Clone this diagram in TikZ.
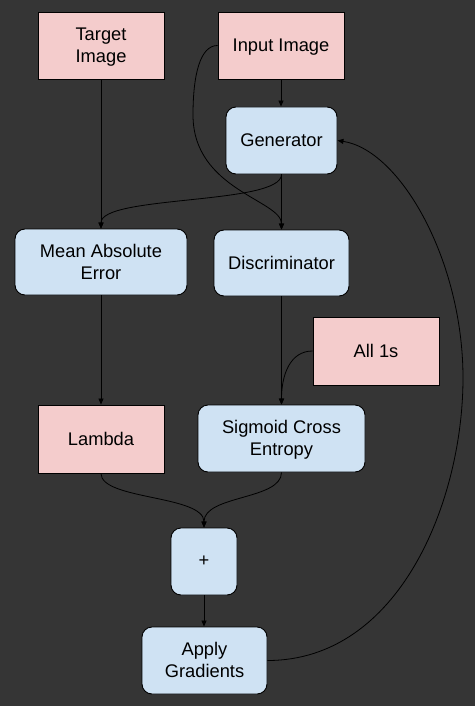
\documentclass[tikz,border=0pt]{standalone}
\usepackage{fontspec}
\setmainfont{Liberation Sans}
\usetikzlibrary{arrows.meta}
\definecolor{bg}{HTML}{353535}
\definecolor{pinkfill}{HTML}{F4CCCC}
\definecolor{bluefill}{HTML}{CFE2F3}
\begin{document}
\begin{tikzpicture}[x=1pt,y=-1pt,
  box/.style={draw=black, line width=0.9pt, align=center, inner sep=0pt,
    text depth=1pt, font=\fontsize{18.3}{22.2}\selectfont},
  pinkbox/.style={box, fill=pinkfill},
  bluebox/.style={box, fill=bluefill, rounded corners=10pt},
  conn/.style={draw=black, line width=0.8pt},
  arr/.style={conn, -{Triangle[length=6pt,width=5pt]}}]
\fill[bg] (0,0) rectangle (475,706);
\useasboundingbox (0,0) rectangle (475,706);

\node[pinkbox, minimum width=126pt, minimum height=67pt] (target) at (101,45.5) {Target\\Image};
\node[pinkbox, minimum width=126pt, minimum height=67pt] (input) at (281,45.5) {Input Image};
\node[bluebox, minimum width=111pt, minimum height=67pt] (gen) at (281.5,140.5) {Generator};
\node[bluebox, minimum width=172pt, minimum height=66pt] (mae) at (101,262) {Mean Absolute\\Error};
\node[bluebox, minimum width=135pt, minimum height=66pt] (disc) at (281.5,263) {Discriminator};
\node[pinkbox, minimum width=126pt, minimum height=68pt] (ones) at (376,351) {All 1s};
\node[pinkbox, minimum width=126pt, minimum height=68pt] (lambda) at (101,439) {Lambda};
\node[bluebox, minimum width=167pt, minimum height=67pt] (sce) at (281.5,438.5) {Sigmoid Cross\\Entropy};
\node[bluebox, minimum width=66pt, minimum height=67pt] (plus) at (204,561.5) {+};
\node[bluebox, minimum width=125pt, minimum height=67pt] (apply) at (204.5,660.5) {Apply\\Gradients};

\coordinate (k1) at (193,115);
\coordinate (k2) at (463,378);

\draw[arr] (target.south) -- (mae.north);
\draw[arr] (input.south) -- (input.south |- gen.north);
\draw[arr] (input.west) .. controls (200,45.5) and (193,75) .. (k1)
  .. controls (193,190) and (281.5,200) .. (disc.north);
\draw[arr] (gen.south) -- (disc.north);
\draw[arr] (gen.south) .. controls (281.5,205) and (101,195) .. (mae.north);
\draw[arr] (mae.south) -- (lambda.north);
\draw[arr] (disc.south) -- (sce.north);
\draw[arr] (ones.west) .. controls (290,351) and (281.5,375) .. (sce.north);
\draw[arr] (lambda.south) .. controls (101,500) and (204,495) .. (plus.north);
\draw[arr] (sce.south) .. controls (281.5,500) and (204,495) .. (plus.north);
\draw[arr] (plus.south) -- (plus.south |- apply.north);
\draw[arr] (apply.east) .. controls (400,660.5) and (463,500) .. (k2)
  .. controls (463,260) and (400,150) .. (gen.east);
\end{tikzpicture}
\end{document}
